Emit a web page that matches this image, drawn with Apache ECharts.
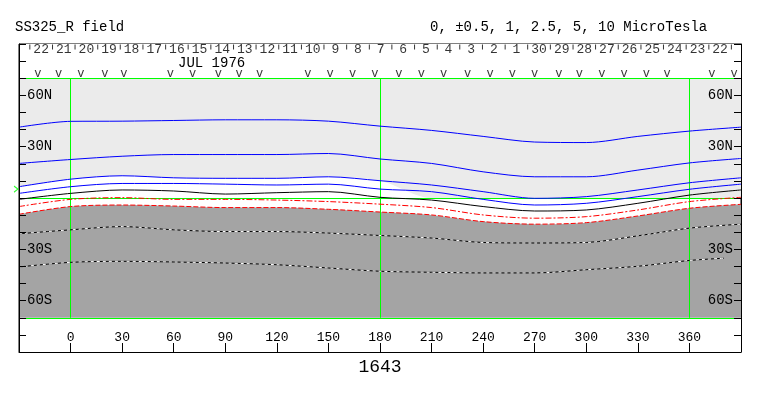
<!DOCTYPE html>
<html><head><meta charset="utf-8">
<script src="https://cdn.jsdelivr.net/npm/echarts@6/dist/echarts.min.js"></script>
<style>html,body{margin:0;padding:0;background:#fff}#c{width:763px;height:396px}</style>
</head><body><div id="c"></div>
<script>
// ---- data (Carrington longitude in degrees, latitude in degrees) ----
const lon = [-30, 0, 30, 60, 90, 120, 150, 180, 210, 240, 270, 300, 330, 360, 390];
const blue1 = [41.4, 44.8, 44.9, 45.3, 45.7, 45.7, 44.9, 42.0, 39.5, 36.0, 32.7, 32.4, 36.0, 39.1, 41.4];
const blue2 = [20.2, 22.5, 24.4, 25.4, 25.4, 25.4, 26.0, 22.8, 20.2, 15.3, 12.4, 12.4, 16.3, 20.5, 23.1];
const blue3 = [6.6, 11.0, 13.0, 11.8, 11.5, 11.5, 12.4, 10.1, 7.6, 3.7, -0.2, 0.8, 4.7, 8.9, 11.8];
const blue4 = [2.7, 6.6, 8.5, 8.5, 8.1, 7.6, 8.1, 5.2, 3.7, -0.8, -4.1, -3.1, 0.8, 5.1, 8.1];
const blackLine = [-0.8, 2.7, 4.7, 4.1, 2.3, 3.1, 3.7, 0.4, -1.2, -5.0, -7.6, -7.0, -3.1, 1.7, 4.7];
const redDashDot = [-5.0, -0.8, 0.2, -0.8, -0.8, -1.2, -2.1, -3.6, -5.6, -9.9, -11.8, -10.9, -7.0, -2.1, 0.4];
const redDash = [-9.5, -5.0, -4.1, -4.7, -5.6, -5.6, -6.6, -8.2, -9.9, -13.8, -15.3, -14.4, -10.5, -6.0, -3.7];
const white1 = [-20.9, -18.6, -16.7, -18.6, -19.6, -19.6, -20.5, -21.9, -23.4, -26.0, -26.3, -26.0, -22.1, -17.6, -15.3];
const white2Lon = [-30, 0, 30, 60, 90, 120, 150, 180, 210, 240, 270, 300, 330, 360, 380];
const white2 = [-40.3, -37.6, -37.0, -37.4, -38.0, -39.0, -40.9, -42.8, -43.4, -43.8, -43.8, -41.9, -39.9, -36.5, -35.2];
// lower edge of the light-grey (positive) shading
const lightEdge = [6.6, 11.0, 13.0, 11.8, 11.5, 11.5, 12.4, 10.1, 0.0, 0.0, 0.0, 0.0, 0.0, 0.0, 0.0];
const plotLatLimit = 70;
const meridians = [0, 180, 360];
const parallels = [-70, 0, 70];
const b0Lat = [5.2];
// blank polar strips outside the map: [lonFrom, latFrom, lonTo, latTo]
const polarStrips = [[-30, 70, 390, 90], [-30, -90, 390, -70]];
// top strip: day boundaries (longitude), day numbers, observation marks
const dayTicks = [-23.7, -10.5, 2.6, 15.8, 28.9, 42.1, 55.3, 68.4, 81.6, 94.8, 107.9, 121.1, 134.3, 147.4, 160.6, 173.8,
  186.9, 200.1, 213.3, 226.4, 239.6, 252.8, 265.9, 279.1, 292.3, 305.4, 318.6, 331.8, 344.9, 358.1, 371.3, 384.4];
const days = [22, 21, 20, 19, 18, 17, 16, 15, 14, 13, 12, 11, 10, 9, 8, 7, 6, 5, 4, 3, 2, 1, 30, 29, 28, 27, 26, 25, 24, 23, 22];
const obsMarks = [-19, -7, 6, 20, 31, 58, 71, 86, 98, 110, 138, 151, 164, 177, 191, 204, 217, 231, 244, 257, 270, 284, 296, 309, 322, 335, 347, 373, 386];
const latLabels = {'60': '60N', '30': '30N', '-30': '30S', '-60': '60S'};

const FONT = '"Liberation Mono", "Courier New", monospace';
const pairs = (xs, ys) => xs.map((x, i) => [x, ys[i]]);

function contour(ys, color, type, xs, z) {
  return {type: 'line', data: pairs(xs || lon, ys), smooth: 0.3, symbol: 'none', silent: true, z: z || 5,
    lineStyle: {color: color, width: 1, type: type || 'solid'}, emphasis: {disabled: true}};
}

const chart = echarts.init(document.getElementById('c'), null, {renderer: 'canvas'});
const dayLabelPos = days.map((d, i) => [(dayTicks[i] + dayTicks[i + 1]) / 2, 86.6, d]);

const yAxisBase = {
  type: 'value', min: -90, max: 90, interval: 10, z: 10,
  axisLine: {show: true, onZero: false, lineStyle: {color: '#000', width: 1}},
  axisTick: {show: true, inside: true, length: 7, lineStyle: {color: '#000'}},
  axisLabel: {inside: true, margin: 8, color: '#000', fontFamily: FONT, fontSize: 14,
    formatter: v => latLabels[String(v)] || ''},
  splitLine: {show: false}
};

chart.setOption({
  animation: false,
  title: [
    {text: 'SS325_R field', left: 15, top: 20, padding: 0,
      textStyle: {fontFamily: FONT, fontSize: 14, fontWeight: 'normal', color: '#000'}},
    {text: '0, ±0.5, 1, 2.5, 5, 10 MicroTesla', left: 430, top: 20, padding: 0,
      textStyle: {fontFamily: FONT, fontSize: 14, fontWeight: 'normal', color: '#000'}}
  ],
  graphic: [{type: 'text', left: 178, top: 56, silent: true, z: 20,
    style: {text: 'JUL 1976', font: '14px ' + FONT, fill: '#000'}}],
  grid: {left: 19, right: 22, top: 44, bottom: 44, show: true, borderColor: '#000', borderWidth: 1, backgroundColor: '#fff'},
  xAxis: {
    type: 'value', min: -30, max: 390, interval: 30, z: 10,
    axisLine: {show: true, onZero: false, lineStyle: {color: '#000'}},
    axisTick: {show: true, inside: true, length: 9, lineStyle: {color: '#000', width: 1}},
    axisLabel: {inside: true, margin: 8, color: '#000', fontFamily: FONT, fontSize: 13,
      formatter: v => (v >= 0 && v <= 360) ? String(v) : ''},
    splitLine: {show: false},
    name: '1643', nameLocation: 'middle', nameGap: 5,
    nameTextStyle: {fontFamily: FONT, fontSize: 18, color: '#000'}
  },
  yAxis: [Object.assign({position: 'left'}, yAxisBase), Object.assign({position: 'right'}, yAxisBase)],
  series: [
    // shading: positive (light) fills up from its edge, negative (dark) fills down from the -0.5 contour
    {type: 'line', data: pairs(lon, lightEdge), smooth: 0.3, symbol: 'none', silent: true, z: 1,
      lineStyle: {opacity: 0}, areaStyle: {color: '#ebebeb', opacity: 1, origin: 'end'}},
    {type: 'line', data: pairs(lon, redDash), smooth: 0.3, symbol: 'none', silent: true, z: 1,
      lineStyle: {opacity: 0}, areaStyle: {color: '#a4a4a4', opacity: 1, origin: 'start'}},
    // blank polar strips
    {type: 'custom', data: polarStrips, silent: true, z: 1.5, clip: false,
      renderItem: (params, api) => {
        const p0 = api.coord([api.value(0), api.value(1)]);
        const p1 = api.coord([api.value(2), api.value(3)]);
        return {type: 'rect', shape: {x: Math.min(p0[0], p1[0]), y: Math.min(p0[1], p1[1]),
          width: Math.abs(p1[0] - p0[0]), height: Math.abs(p1[1] - p0[1])}, style: {fill: '#ffffff'}};
      }},
    // green reference lines
    {type: 'line', data: [], silent: true, z: 2,
      markLine: {silent: true, symbol: ['none', 'none'], label: {show: false}, animation: false,
        lineStyle: {color: '#00ff00', width: 1, type: 'solid'}, emphasis: {disabled: true},
        data: meridians.map(m => [{coord: [m, -plotLatLimit]}, {coord: [m, plotLatLimit]}])
          .concat(parallels.map(p => [{coord: [-30, p]}, {coord: [390, p]}]))}},
    // contours
    contour(blue1, '#0000ff'),
    contour(blue2, '#0000ff'),
    contour(blue3, '#0000ff'),
    contour(blue4, '#0000ff'),
    contour(blackLine, '#000000'),
    contour(redDashDot, '#ff0000', [6, 2, 2, 2]),
    contour(redDash, '#ff0000', [5, 2]),
    contour(white1, '#000000', 'solid', lon, 5),
    contour(white1, '#ffffff', [3, 3], lon, 6),
    contour(white2, '#000000', 'solid', white2Lon, 5),
    contour(white2, '#ffffff', [3, 3], white2Lon, 6),
    // top strip
    {type: 'scatter', data: dayTicks.map(x => [x, 88.2]), symbol: 'rect', symbolSize: [1, 5], silent: true, z: 7,
      itemStyle: {color: '#000'}},
    {type: 'scatter', data: dayLabelPos, symbolSize: 1, silent: true, z: 7, itemStyle: {color: 'rgba(0,0,0,0)'},
      label: {show: true, position: 'inside', formatter: p => String(p.value[2]), color: '#000', fontFamily: FONT, fontSize: 13}},
    {type: 'scatter', data: obsMarks.map(x => [x, 72.4]), symbolSize: 1, silent: true, z: 7, itemStyle: {color: 'rgba(0,0,0,0)'},
      label: {show: true, position: 'inside', formatter: 'v', color: '#000', fontFamily: FONT, fontSize: 12}},
    // B0 marker
    {type: 'scatter', data: b0Lat.map(b => [-30, b]), clip: false, silent: true, z: 8,
      symbol: 'path://M0,0 L5,4 L0,8', symbolSize: [4, 6], symbolOffset: [-3, 0],
      itemStyle: {color: 'none', borderColor: '#00ff00', borderWidth: 1}}
  ]
});
</script></body></html>
